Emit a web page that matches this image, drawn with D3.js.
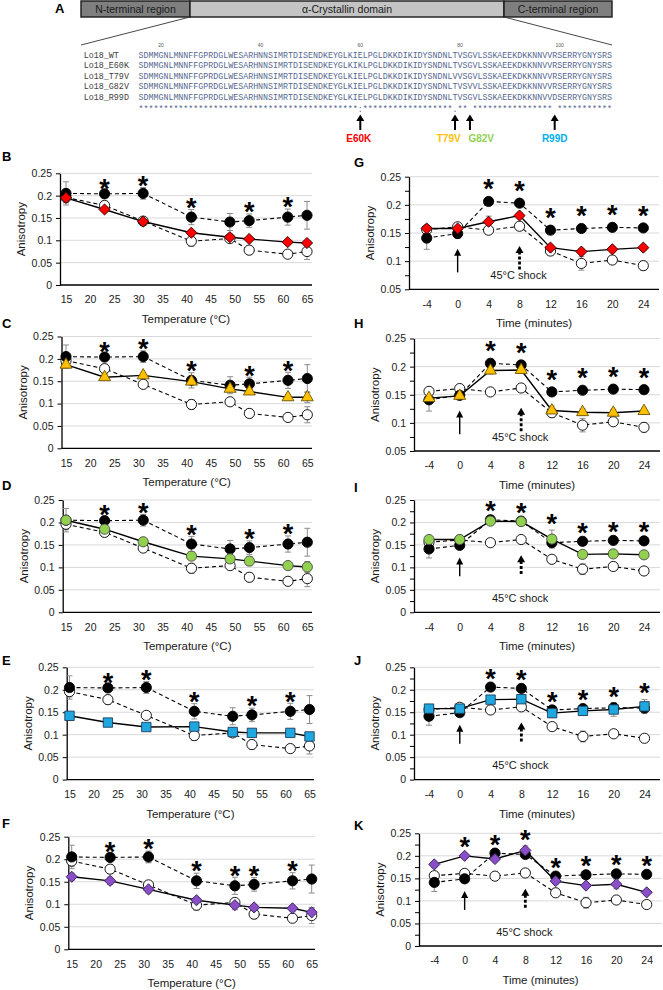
<!DOCTYPE html>
<html lang="en">
<head>
<meta charset="UTF-8">
<title>Lo18 anisotropy</title>
<script src="https://d3js.org/d3.v7.min.js"></script>
<style>
  body { margin: 0; background: #fff; }
  svg { display: block; font-family: "Liberation Sans", Arial, sans-serif; }
</style>
</head>
<body>
<svg id="fig" width="663" height="990"></svg>
<script>
// ---------- data ----------
const tempX = [15, 23, 31, 41, 49, 53, 61, 65];
const tempTicks = [15, 20, 25, 30, 35, 40, 45, 50, 55, 60, 65];
const timeX = [-4, 0, 4, 8, 12, 16, 20, 24];

// reference series repeated in every panel
const tempBlack    = [0.205, 0.204, 0.205, 0.152, 0.141, 0.144, 0.152, 0.156];
const tempBlackErr = [0.026, 0.008, 0.013, 0.017, 0.019, 0.015, 0.018, 0.031];
const tempWhite    = [0.196, 0.178, 0.143, 0.098, 0.104, 0.078, 0.069, 0.075];
const tempWhiteErr = [0.012, 0.010, 0.006, 0.011, 0.006, 0.010, 0.006, 0.018];
const timeBlack    = [0.141, 0.149, 0.206, 0.203, 0.155, 0.158, 0.160, 0.159];
const timeBlackErr = [0.020, 0.008, 0.005, 0.005, 0.005, 0.005, 0.005, 0.005];
const timeWhite    = [0.156, 0.161, 0.155, 0.162, 0.118, 0.096, 0.102, 0.092];
const timeWhiteErr = [0.005, 0.005, 0.005, 0.005, 0.008, 0.012, 0.005, 0.008];

// mutants, temperature
const tempE60K = [0.195, 0.169, 0.142, 0.117, 0.107, 0.103, 0.096, 0.094];
const tempE60KErr = [0.006, 0.005, 0.005, 0.005, 0.005, 0.004, 0.004, 0.004];
const tempT79V = [0.187, 0.159, 0.163, 0.149, 0.133, 0.127, 0.114, 0.114];
const tempT79VErr = [0.008, 0.005, 0.005, 0.006, 0.006, 0.006, 0.006, 0.012];
const tempG82V = [0.205, 0.185, 0.157, 0.125, 0.119, 0.114, 0.104, 0.101];
const tempG82VErr = [0.010, 0.006, 0.006, 0.006, 0.006, 0.010, 0.006, 0.012];
const tempR99D = [0.142, 0.127, 0.117, 0.118, 0.106, 0.104, 0.104, 0.096];
const tempR99DErr = [0.005, 0.005, 0.005, 0.005, 0.005, 0.005, 0.005, 0.005];
const tempF = [0.161, 0.152, 0.133, 0.109, 0.098, 0.093, 0.091, 0.082];
const tempFErr = [0.008, 0.008, 0.008, 0.006, 0.010, 0.006, 0.006, 0.008];

// mutants, time course
const timeE60K = [0.158, 0.158, 0.170, 0.181, 0.124, 0.117, 0.121, 0.124];
const timeE60KErr = [0.005, 0.005, 0.010, 0.005, 0.005, 0.005, 0.005, 0.005];
const timeT79V = [0.144, 0.148, 0.193, 0.194, 0.122, 0.119, 0.118, 0.121];
const timeT79VErr = [0.008, 0.005, 0.006, 0.006, 0.008, 0.006, 0.006, 0.005];
const timeG82V = [0.162, 0.162, 0.203, 0.202, 0.163, 0.129, 0.130, 0.128];
const timeG82VErr = [0.005, 0.005, 0.005, 0.005, 0.020, 0.008, 0.006, 0.006];
const timeR99D = [0.158, 0.158, 0.178, 0.179, 0.148, 0.153, 0.156, 0.163];
const timeR99DErr = [0.005, 0.005, 0.005, 0.005, 0.010, 0.010, 0.015, 0.015];
const timeK = [0.181, 0.200, 0.193, 0.212, 0.144, 0.134, 0.137, 0.119];
const timeKErr = [0.005, 0.005, 0.005, 0.010, 0.006, 0.006, 0.010, 0.005];

// significance marks
const starsTemp = [23, 31, 41, 53, 61];
const starsTempF = [23, 31, 41, 49, 53, 61];
const starsTime = [4, 8, 12, 16, 20, 24];
const starsTimeK = [0, 4, 8, 12, 16, 20, 24];

const yTicksFull = [0, 0.05, 0.1, 0.15, 0.2, 0.25];
const yTicksHigh = [0.05, 0.1, 0.15, 0.2, 0.25];

// panel A
const domainNames = ["N-terminal region", "\u03b1-Crystallin domain", "C-terminal region"];
const seqNames = ["Lo18_WT", "Lo18_E60K", "Lo18_T79V", "Lo18_G82V", "Lo18_R99D"];
const seqRows = [
  "SDMMGNLMNNFFGPRDGLWESARHNNSIMRTDISENDKEYGLKIELPGLDKKDIKIDYSNDNLTVSGVLSSKAEEKDKKNNVVRSERRYGNYSRS",
  "SDMMGNLMNNFFGPRDGLWESARHNNSIMRTDISENDKEYGLKIKLPGLDKKDIKIDYSNDNLTVSGVLSSKAEEKDKKNNVVRSERRYGNYSRS",
  "SDMMGNLMNNFFGPRDGLWESARHNNSIMRTDISENDKEYGLKIELPGLDKKDIKIDYSNDNLVVSGVLSSKAEEKDKKNNVVRSERRYGNYSRS",
  "SDMMGNLMNNFFGPRDGLWESARHNNSIMRTDISENDKEYGLKIELPGLDKKDIKIDYSNDNLTVSVVLSSKAEEKDKKNNVVRSERRYGNYSRS",
  "SDMMGNLMNNFFGPRDGLWESARHNNSIMRTDISENDKEYGLKIELPGLDKKDIKIDYSNDNLTVSGVLSSKAEEKDKKNNVVDSERRYGNYSRS"
];
const consensus = "**********" + "**********" + "**********" + "**********" + "****" + ":" +
  "**********" + "********" + "." + "**" + " " + "**********" + "******" + " " + "**********" + "*";
const rulerRes = [20, 40, 60, 80, 100];
const mutRes = [60, 79, 82, 99];
const mutLabels = ["E60K", "T79V", "G82V", "R99D"];
const mutColors = ["#ff0000", "#ffc000", "#92d050", "#00b0f0"];

// ---------- layout ----------
const svg = d3.select("#fig");

// Panel A
svg.append("text").attr("x", 55).attr("y", 12.5)
  .attr("font-size", 13).attr("font-weight", "bold").text("A");

const barX = [81, 190, 504, 612];
const barFill = ["#7f7f7f", "#c4c4c4", "#7f7f7f"];
domainNames.forEach((name, i) => {
  svg.append("rect").attr("x", barX[i]).attr("y", 1)
    .attr("width", barX[i + 1] - barX[i]).attr("height", 16)
    .attr("fill", barFill[i]).attr("stroke", "#1a1a1a").attr("stroke-width", 1.4);
  svg.append("text").attr("x", (barX[i] + barX[i + 1]) / 2).attr("y", 12.7)
    .attr("text-anchor", "middle").attr("font-size", 10.5).attr("fill", "#1a1a1a").text(name);
});
svg.append("line").attr("x1", barX[1]).attr("y1", 17).attr("x2", barX[0]).attr("y2", 45)
  .attr("stroke", "#333").attr("stroke-width", 0.9);
svg.append("line").attr("x1", barX[2]).attr("y1", 17).attr("x2", barX[3]).attr("y2", 45)
  .attr("stroke", "#333").attr("stroke-width", 0.9);

const xRes = d3.scaleLinear().domain([15.5, 110.5]).range([138.5, 612]);
const rowY = d3.scalePoint().domain(d3.range(seqRows.length + 1)).range([58, 110]);
const monoFont = '"Liberation Mono", "DejaVu Sans Mono", monospace';
const seqWidth = xRes(110.5) - xRes(15.5);

svg.selectAll(".ruler").data(rulerRes).join("text")
  .attr("x", d => xRes(d)).attr("y", 47).attr("text-anchor", "middle")
  .attr("font-size", 5).attr("fill", "#555").text(d => d);

seqRows.forEach((s, i) => {
  svg.append("text").attr("x", 83.7).attr("y", rowY(i))
    .attr("font-family", monoFont).attr("font-size", 8.4).attr("fill", "#404040")
    .text(seqNames[i]);
  svg.append("text").attr("x", xRes(15.5)).attr("y", rowY(i))
    .attr("font-family", monoFont).attr("font-size", 8.3).attr("fill", "#56688f")
    .attr("textLength", seqWidth).attr("lengthAdjust", "spacingAndGlyphs")
    .text(s);
});
svg.append("text").attr("x", xRes(15.5)).attr("y", rowY(seqRows.length) + 2)
  .attr("font-family", monoFont).attr("font-size", 8.3).attr("fill", "#56688f")
  .attr("textLength", seqWidth).attr("lengthAdjust", "spacingAndGlyphs")
  .style("white-space", "pre")
  .text(consensus);

const labelDx = [-1.5, -6.3, 11.3, 0];
mutRes.forEach((r, i) => {
  const x = xRes(r);
  svg.append("line").attr("x1", x).attr("x2", x).attr("y1", 130).attr("y2", 120)
    .attr("stroke", "#000").attr("stroke-width", 2);
  svg.append("path").attr("d", `M${x - 4},${121} L${x + 4},${121} L${x},${114.5} Z`).attr("fill", "#000");
  svg.append("text").attr("x", x + labelDx[i]).attr("y", 141.5).attr("text-anchor", "middle")
    .attr("font-size", 10).attr("font-weight", "bold").attr("fill", mutColors[i])
    .text(mutLabels[i]);
});

// ---------- line panels ----------
const leftLayout = {
  B: {top: 173.3, bottom: 285, axisX: 60, x0: 66, x1: 307, right: 312, letterY: 156.7},
  C: {top: 336.5, bottom: 448.3, axisX: 61.5, x0: 66, x1: 307.3, right: 312, letterY: 323.3},
  D: {top: 500, bottom: 612.3, axisX: 62.7, x0: 66, x1: 307.3, right: 312, letterY: 485},
  E: {top: 667.3, bottom: 779.6, axisX: 66.7, x0: 69.5, x1: 309.5, right: 314, letterY: 660},
  F: {top: 836.7, bottom: 949.3, axisX: 68.3, x0: 71.7, x1: 311.7, right: 315, letterY: 823.3}
};
const rightLayout = {
  G: {top: 176.7, bottom: 289.3, axisX: 409, x0: 426.7, x1: 643.3, right: 659, letterY: 162.7},
  H: {top: 338.5, bottom: 451, axisX: 414, x0: 429, x1: 644, right: 660, letterY: 323.3},
  I: {top: 500, bottom: 612.3, axisX: 414, x0: 429, x1: 644, right: 660, letterY: 487},
  J: {top: 667.3, bottom: 779.6, axisX: 414, x0: 429, x1: 644.5, right: 660, letterY: 660},
  K: {top: 833.3, bottom: 946, axisX: 419, x0: 434.3, x1: 646.7, right: 662, letterY: 825}
};

const styles = {
  diamond: {type: d3.symbolSquare, size: 62, rotate: 45},
  triangle: {type: d3.symbolTriangle, size: 62, rotate: 0},
  circle: {type: d3.symbolCircle, size: 82, rotate: 0},
  square: {type: d3.symbolSquare, size: 88, rotate: 0}
};

function drawPanel(p) {
  const L = p.layout;
  const g = svg.append("g");
  const y = d3.scaleLinear().domain(p.yDomain).range([L.bottom, L.top]);
  const x = p.kind === "temp"
    ? d3.scaleLinear().domain([15, 65]).range([L.x0, L.x1])
    : d3.scalePoint().domain(timeX).range([L.x0, L.x1]);
  const xs = p.kind === "temp" ? tempX : timeX;

  // gridlines
  g.selectAll(".grid").data(p.yTicks.slice(1)).join("line")
    .attr("x1", L.axisX).attr("x2", L.right)
    .attr("y1", d => y(d)).attr("y2", d => y(d))
    .attr("stroke", "#d9d9d9").attr("stroke-width", 1);

  // axes
  const ya = g.append("g").attr("transform", `translate(${L.axisX},0)`)
    .call(d3.axisLeft(y).tickValues(p.yTicks).tickFormat(d => String(d))
      .tickSize(4).tickSizeOuter(0).tickPadding(4));
  ya.select(".domain").attr("stroke", "#000").attr("stroke-width", 1.3);
  ya.selectAll(".tick line").attr("stroke", "#000");
  ya.selectAll("text").attr("font-size", 10.5).attr("fill", "#1a1a1a")
    .attr("font-family", '"Liberation Sans", Arial, sans-serif');
  if (p.minor) {
    const mn = g.append("g").attr("transform", `translate(${L.axisX},0)`)
      .call(d3.axisLeft(y).tickValues(p.minor).tickFormat("").tickSize(4).tickSizeOuter(0));
    mn.select(".domain").remove();
    mn.selectAll(".tick line").attr("stroke", "#000");
  }
  g.append("line").attr("x1", L.axisX).attr("x2", L.right)
    .attr("y1", L.bottom).attr("y2", L.bottom).attr("stroke", "#000").attr("stroke-width", 1.3);
  const xa = g.append("g").attr("transform", `translate(0,${L.bottom})`)
    .call(d3.axisBottom(x).tickValues(p.kind === "temp" ? tempTicks : timeX)
      .tickSize(0).tickPadding(11));
  xa.select(".domain").remove();
  xa.selectAll("text").attr("font-size", 10.5).attr("fill", "#1a1a1a")
    .attr("font-family", '"Liberation Sans", Arial, sans-serif');

  // titles
  g.append("text").attr("x", (L.axisX + L.right) / 2).attr("y", L.bottom + 38)
    .attr("text-anchor", "middle").attr("font-size", 11.5).attr("fill", "#1a1a1a")
    .text(p.kind === "temp" ? "Temperature (\u00b0C)" : "Time (minutes)");
  g.append("text")
    .attr("transform", `translate(${L.axisX - 39},${(L.top + L.bottom) / 2}) rotate(-90)`)
    .attr("text-anchor", "middle").attr("dominant-baseline", "central")
    .attr("font-size", 11.5).attr("fill", "#1a1a1a").text("Anisotropy");
  g.append("text").attr("x", p.kind === "temp" ? 2 : 354).attr("y", L.letterY + 4.7)
    .attr("font-size", 13).attr("font-weight", "bold").text(p.letter);

  // shock arrows and label
  if (p.kind === "time") {
    const xa0 = x(0), xa8 = x(8);
    g.append("line").attr("x1", xa0).attr("x2", xa0)
      .attr("y1", y(0.08)).attr("y2", y(0.122) + 5)
      .attr("stroke", "#000").attr("stroke-width", 1.4);
    g.append("path").attr("d", `M${xa0 - 3.5},${y(0.122) + 7} L${xa0 + 3.5},${y(0.122) + 7} L${xa0},${y(0.122)} Z`);
    g.append("line").attr("x1", xa8).attr("x2", xa8)
      .attr("y1", y(0.085)).attr("y2", y(0.127) + 5)
      .attr("stroke", "#000").attr("stroke-width", 2.8).attr("stroke-dasharray", "3,2");
    g.append("path").attr("d", `M${xa8 - 4},${y(0.127) + 7} L${xa8 + 4},${y(0.127) + 7} L${xa8},${y(0.127)} Z`);
    g.append("text").attr("x", xa8 - 1).attr("y", L.bottom - 10.5)
      .attr("text-anchor", "middle").attr("font-size", 11).attr("fill", "#1a1a1a")
      .text("45\u00b0C shock");
  }

  const series = [
    {v: p.white, e: p.whiteErr, shape: "circle", fill: "#fff", stroke: "#000", dash: "4,3"},
    {v: p.black, e: p.blackErr, shape: "circle", fill: "#000", stroke: "#000", dash: "4,3"},
    {v: p.mut, e: p.mutErr, shape: p.shape, fill: p.fill, stroke: p.mutStroke, dash: null}
  ];
  const line = d3.line().x((d, i) => x(xs[i])).y(d => y(d));

  series.forEach(s => {
    g.append("path").attr("d", line(s.v)).attr("fill", "none")
      .attr("stroke", "#000").attr("stroke-width", s.dash ? 1.1 : 1.4)
      .attr("stroke-dasharray", s.dash);
  });
  series.forEach(s => {
    s.v.forEach((v, i) => {
      const cx = x(xs[i]);
      g.append("path")
        .attr("d", `M${cx},${y(v - s.e[i])}V${y(v + s.e[i])}M${cx - 3},${y(v - s.e[i])}H${cx + 3}M${cx - 3},${y(v + s.e[i])}H${cx + 3}`)
        .attr("stroke", "#8c8c8c").attr("stroke-width", 1).attr("fill", "none");
    });
  });
  series.forEach(s => {
    const st = styles[s.shape];
    const sym = d3.symbol(st.type, st.size);
    g.selectAll(null).data(s.v).join("path")
      .attr("d", sym)
      .attr("transform", (d, i) => `translate(${x(xs[i])},${y(d)}) rotate(${st.rotate})`)
      .attr("fill", s.fill).attr("stroke", s.stroke).attr("stroke-width", 0.9);
  });

  // asterisks
  p.stars.forEach(sx => {
    const i = xs.indexOf(sx);
    const top = d3.max(series, s => s.v[i] + s.e[i]);
    const cy = y(top + p.starOffset);
    g.append("text").attr("x", x(sx)).attr("y", cy + 0.57 * 27)
      .attr("text-anchor", "middle").attr("font-size", 27).attr("font-weight", "bold")
      .attr("fill", "#000").text("*");
  });
}

const minorHigh = [0.075, 0.125, 0.175, 0.225];
const minorFull = [0.025, 0.075, 0.125, 0.175, 0.225];

const tempPanels = [
  {letter: "B", mut: tempE60K, mutErr: tempE60KErr, shape: "diamond", fill: "#ff0000", mutStroke: "#3a0000", stars: starsTemp},
  {letter: "C", mut: tempT79V, mutErr: tempT79VErr, shape: "triangle", fill: "#ffc000", mutStroke: "#6b5200", stars: starsTemp},
  {letter: "D", mut: tempG82V, mutErr: tempG82VErr, shape: "circle", fill: "#92d050", mutStroke: "#4a4a4a", stars: starsTemp},
  {letter: "E", mut: tempR99D, mutErr: tempR99DErr, shape: "square", fill: "#1fa8e0", mutStroke: "#1d3d5c", stars: starsTemp},
  {letter: "F", mut: tempF, mutErr: tempFErr, shape: "diamond", fill: "#8a4fc7", mutStroke: "#3a1f5c", stars: starsTempF}
];
tempPanels.forEach(p => drawPanel(Object.assign({
  kind: "temp", layout: leftLayout[p.letter], yDomain: [0, 0.25], yTicks: yTicksFull, minor: null,
  black: tempBlack, blackErr: tempBlackErr, white: tempWhite, whiteErr: tempWhiteErr, starOffset: 0.018
}, p)));

const timePanels = [
  {letter: "G", mut: timeE60K, mutErr: timeE60KErr, shape: "diamond", fill: "#ff0000", mutStroke: "#3a0000", stars: starsTime, low: true},
  {letter: "H", mut: timeT79V, mutErr: timeT79VErr, shape: "triangle", fill: "#ffc000", mutStroke: "#6b5200", stars: starsTime, low: true},
  {letter: "I", mut: timeG82V, mutErr: timeG82VErr, shape: "circle", fill: "#92d050", mutStroke: "#4a4a4a", stars: starsTime, low: false},
  {letter: "J", mut: timeR99D, mutErr: timeR99DErr, shape: "square", fill: "#1fa8e0", mutStroke: "#1d3d5c", stars: starsTime, low: false},
  {letter: "K", mut: timeK, mutErr: timeKErr, shape: "diamond", fill: "#8a4fc7", mutStroke: "#3a1f5c", stars: starsTimeK, low: false}
];
timePanels.forEach(p => drawPanel(Object.assign({
  kind: "time", layout: rightLayout[p.letter],
  yDomain: p.low ? [0.05, 0.25] : [0, 0.25],
  yTicks: p.low ? yTicksHigh : yTicksFull,
  minor: p.low ? minorHigh : minorFull,
  black: timeBlack, blackErr: timeBlackErr, white: timeWhite, whiteErr: timeWhiteErr, starOffset: 0.028
}, p)));
</script>
</body>
</html>
